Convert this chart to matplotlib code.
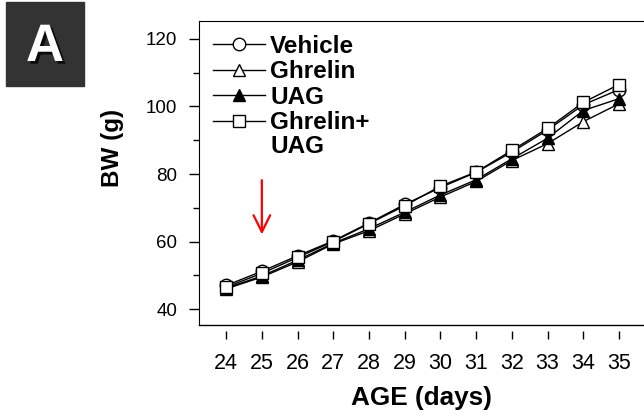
import numpy as np
import matplotlib.pyplot as plt
from matplotlib.patches import Rectangle
import matplotlib.patheffects as pe

plt.rcParams['font.family'] = ['Liberation Sans', 'DejaVu Sans']

age = [24, 25, 26, 27, 28, 29, 30, 31, 32, 33, 34, 35]
vehicle = [47.0, 51.2, 55.8, 60.2, 65.5, 71.0, 76.0, 80.5, 86.5, 93.0, 100.5, 105.0]
ghrelin = [46.0, 49.5, 54.0, 59.3, 63.2, 68.2, 73.2, 77.8, 84.0, 89.0, 95.5, 100.8]
uag = [46.2, 49.8, 54.5, 59.5, 63.8, 68.7, 73.8, 78.3, 84.5, 90.6, 98.8, 102.3]
ghr_uag = [46.5, 50.6, 55.3, 60.0, 65.3, 70.6, 76.4, 80.6, 87.0, 93.5, 101.2, 106.5]

series = [
    ('Vehicle', vehicle, 'o', 'white'),
    ('Ghrelin', ghrelin, '^', 'white'),
    ('UAG', uag, '^', 'black'),
    ('Ghrelin+', ghr_uag, 's', 'white'),
]

W, H = 644, 419
fig = plt.figure(figsize=(W / 100, H / 100), dpi=100)
ax = fig.add_axes([199/W, 94/H, 445/W, 304/H])

for name, vals, mk, fc in series:
    ax.plot(age, vals, color='black', lw=1.0, marker=mk, ms=9,
            mfc=fc, mec='black', mew=1.0, label=name)

ax.set_xlim(23.24, 35.70)
ax.set_ylim(35.3, 125.3)

ax.set_xticks(age)
ax.set_yticks([40, 60, 80, 100, 120])
ax.set_yticks([50, 70, 90, 110], minor=True)

ax.spines['right'].set_visible(False)
ax.spines['bottom'].set_position(('outward', 4))
ax.spines['bottom'].set_visible(False)
ax.axhline(35.3, color='black', lw=1.0, clip_on=False)

ax.tick_params(axis='x', direction='out', length=6, width=1.0, pad=10, labelsize=15.5)
ax.tick_params(axis='y', which='major', direction='out', length=7.5, width=1.0, pad=8, labelsize=13.5)
ax.tick_params(axis='y', which='minor', direction='out', length=4, width=1.0)

ax.set_xlabel('AGE (days)', fontsize=18.8, fontweight='bold', labelpad=9)
ax.set_ylabel('BW (g)', fontsize=17.5, fontweight='bold', va='center')
ax.yaxis.set_label_coords(-0.1955, 0.582)

# arrow at day 25
ax.annotate('', xy=(25, 61.3), xytext=(25, 79.0),
            arrowprops=dict(arrowstyle='->', color='red', lw=1.6, mutation_scale=30))

leg = ax.legend(loc='upper left', frameon=False, prop={'weight': 'bold', 'size': 17.5},
                handlelength=2.15, handletextpad=0.2, labelspacing=0.1,
                borderaxespad=0.0, borderpad=0.0, bbox_to_anchor=(14/445, 1 - 14/304))

# second line of the last legend label
fig.canvas.draw()
bb = leg.get_texts()[3].get_window_extent()
fig.text(bb.x0 / W, (bb.y0 - 24) / H, 'UAG', fontsize=17.5, fontweight='bold',
         ha='left', va='bottom')

# panel label
fig.patches.append(Rectangle((6/W, 1 - 86/H), 78/W, 84/H,
                             transform=fig.transFigure, color='#333333'))
fig.text(45/W, 1 - 47/H, 'A', color='white', fontsize=38, fontweight='bold',
         ha='center', va='center',
         path_effects=[pe.withSimplePatchShadow(offset=(2, -2), shadow_rgbFace='black', alpha=0.8)])

fig.savefig('out.png', dpi=100)
